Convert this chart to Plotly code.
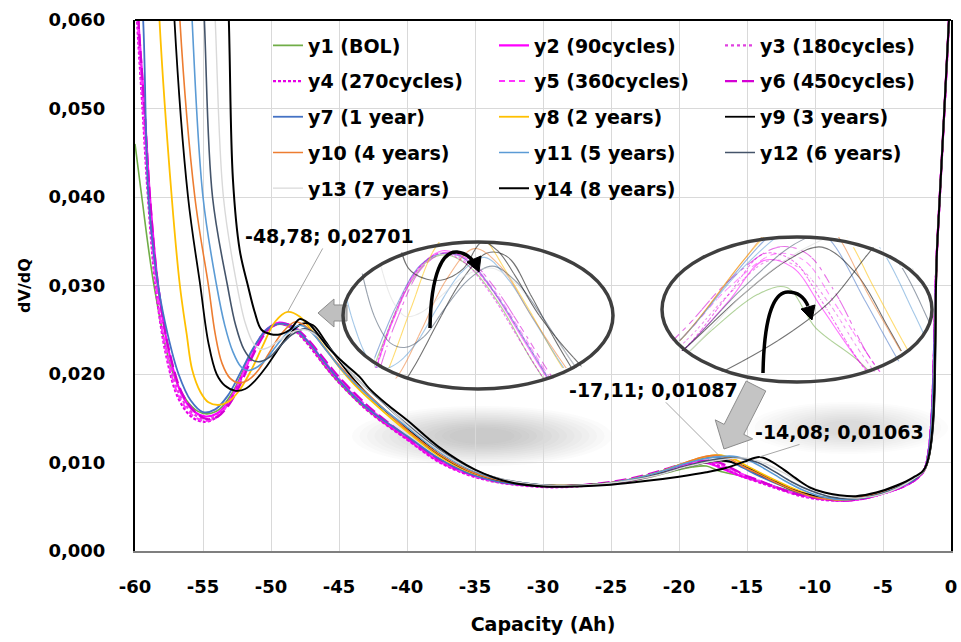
import numpy as np
import plotly.graph_objects as go

# ---------------- data ----------------
names = ["y1 (BOL)", "y2 (90cycles)", "y3 (180cycles)", "y4 (270cycles)", "y5 (360cycles)",
         "y6 (450cycles)", "y7 (1 year)", "y8 (2 years)", "y9 (3 years)", "y10 (4 years)",
         "y11 (5 years)", "y12 (6 years)", "y13 (7 years)", "y14 (8 years)"]

x_y1 = [-60, -59.5, -58.6, -57.3, -56.2, -55.4, -54.7, -53.8, -52.8, -51.8, -50.8, -49.9, -49.2, -48.3, -47.2, -46.0, -44.8, -43.5, -42.0, -40.0, -38.0, -36.0, -34.0, -32.0, -30.0, -28.0, -26.0, -24.0, -22.0, -20.5, -19.0, -18.0, -17.0, -15.5, -14.0, -12.5, -11.0, -9.5, -8.0, -6.5, -5.0, -3.5, -2.5, -1.9, -1.0, -0.15, 0]
y_y1 = [0.046, 0.040, 0.030, 0.0205, 0.0170, 0.0158, 0.0155, 0.0160, 0.0180, 0.0212, 0.0240, 0.0254, 0.0256, 0.0250, 0.0233, 0.0208, 0.0187, 0.0167, 0.0148, 0.0127, 0.0106, 0.0091, 0.0080, 0.0075, 0.0073, 0.0073, 0.0075, 0.0078, 0.0084, 0.0090, 0.0095, 0.0096, 0.0090, 0.0085, 0.0078, 0.0071, 0.0065, 0.0061, 0.0059, 0.0061, 0.0066, 0.0074, 0.0083, 0.0095, 0.035, 0.060, 0.066]

x_y2 = [-60, -59.75, -59.3, -58.9, -58.3, -57.5, -56.6, -55.6, -54.8, -54.0, -53.2, -52.3, -51.3, -50.3, -49.4, -48.5, -47.5, -46.4, -45.3, -44.0, -42.6, -40.0, -37.7, -35.5, -33.5, -31.5, -29.5, -27.5, -25.5, -23.5, -21.5, -20.0, -18.8, -17.8, -16.8, -15.5, -14.0, -12.5, -11.0, -9.5, -8.0, -6.5, -5.0, -3.5, -2.5, -1.9, -1.0, -0.15, 0]
y_y2 = [0.068, 0.060, 0.050, 0.040, 0.030, 0.0225, 0.0178, 0.0157, 0.0152, 0.0155, 0.0167, 0.0192, 0.0226, 0.0250, 0.0258, 0.0254, 0.0240, 0.0219, 0.0198, 0.0177, 0.0157, 0.0127, 0.0102, 0.0087, 0.0079, 0.0075, 0.0073, 0.0074, 0.0076, 0.0080, 0.0087, 0.0094, 0.0100, 0.0099, 0.0093, 0.0085, 0.0078, 0.0070, 0.0063, 0.0059, 0.0057, 0.0059, 0.0065, 0.0073, 0.0082, 0.0094, 0.035, 0.060, 0.066]

x_y3 = [-60, -59.8, -59.35, -58.95, -58.4, -57.6, -56.7, -55.7, -54.8, -54.0, -53.2, -52.3, -51.3, -50.3, -49.4, -48.5, -47.5, -46.4, -45.3, -44.0, -42.6, -40.0, -37.7, -35.5, -33.5, -31.5, -29.5, -27.5, -25.5, -23.5, -21.5, -20.0, -18.6, -17.6, -16.6, -15.4, -14.0, -12.5, -11.0, -9.5, -8.0, -6.5, -5.0, -3.5, -2.5, -1.9, -1.0, -0.15, 0]
y_y3 = [0.068, 0.060, 0.050, 0.040, 0.030, 0.0222, 0.0176, 0.0155, 0.0149, 0.0153, 0.0166, 0.0191, 0.0226, 0.0250, 0.0257, 0.0253, 0.0240, 0.0220, 0.0199, 0.0178, 0.0158, 0.0128, 0.0103, 0.0088, 0.0079, 0.0075, 0.0073, 0.0074, 0.0076, 0.0081, 0.0088, 0.0095, 0.0100, 0.0099, 0.0094, 0.0086, 0.0078, 0.0070, 0.0063, 0.0059, 0.0057, 0.0059, 0.0065, 0.0073, 0.0082, 0.0094, 0.035, 0.060, 0.066]

x_y4 = [-60, -59.85, -59.45, -59.05, -58.5, -57.7, -56.8, -55.8, -54.9, -54.1, -53.3, -52.4, -51.4, -50.4, -49.5, -48.6, -47.6, -46.5, -45.4, -44.1, -42.7, -40.0, -37.7, -35.5, -33.5, -31.5, -29.5, -27.5, -25.5, -23.5, -21.5, -20.0, -18.8, -17.8, -16.8, -15.5, -14.0, -12.5, -11.0, -9.5, -8.0, -6.5, -5.0, -3.5, -2.5, -1.9, -1.0, -0.15, 0]
y_y4 = [0.066, 0.060, 0.050, 0.040, 0.030, 0.0220, 0.0172, 0.0151, 0.0146, 0.0150, 0.0163, 0.0189, 0.0224, 0.0249, 0.0257, 0.0253, 0.0239, 0.0218, 0.0197, 0.0176, 0.0156, 0.0126, 0.0101, 0.0086, 0.0078, 0.0074, 0.0072, 0.0073, 0.0076, 0.0080, 0.0087, 0.0095, 0.0101, 0.0100, 0.0094, 0.0085, 0.0077, 0.0069, 0.0062, 0.0058, 0.0057, 0.0059, 0.0065, 0.0073, 0.0082, 0.0094, 0.035, 0.060, 0.066]

x_y5 = [-60, -59.8, -59.4, -59.0, -58.45, -57.65, -56.75, -55.75, -54.85, -54.05, -53.25, -52.35, -51.35, -50.35, -49.45, -48.5, -47.5, -46.4, -45.3, -44.0, -42.6, -40.0, -37.7, -35.5, -33.5, -31.5, -29.5, -27.5, -25.5, -23.5, -21.5, -20.0, -18.4, -17.4, -16.4, -15.2, -14.0, -12.5, -11.0, -9.5, -8.0, -6.5, -5.0, -3.5, -2.5, -1.9, -1.0, -0.15, 0]
y_y5 = [0.067, 0.060, 0.050, 0.040, 0.030, 0.0221, 0.0174, 0.0153, 0.0147, 0.0151, 0.0164, 0.0190, 0.0225, 0.0250, 0.0257, 0.0254, 0.0241, 0.0221, 0.0200, 0.0179, 0.0159, 0.0129, 0.0103, 0.0087, 0.0079, 0.0075, 0.0073, 0.0074, 0.0076, 0.0081, 0.0089, 0.0096, 0.0101, 0.0100, 0.0094, 0.0086, 0.0079, 0.0070, 0.0063, 0.0059, 0.0057, 0.0059, 0.0065, 0.0073, 0.0082, 0.0094, 0.035, 0.060, 0.066]

x_y6 = [-60, -59.75, -59.3, -58.9, -58.3, -57.45, -56.5, -55.5, -54.7, -53.9, -53.1, -52.2, -51.2, -50.2, -49.3, -48.4, -47.4, -46.3, -45.2, -43.9, -42.5, -40.0, -37.7, -35.5, -33.5, -31.5, -29.5, -27.5, -25.5, -23.5, -21.5, -20.0, -18.3, -17.3, -16.3, -15.2, -14.0, -12.5, -11.0, -9.5, -8.0, -6.5, -5.0, -3.5, -2.5, -1.9, -1.0, -0.15, 0]
y_y6 = [0.068, 0.060, 0.050, 0.040, 0.030, 0.0224, 0.0177, 0.0156, 0.0149, 0.0152, 0.0165, 0.0190, 0.0225, 0.0250, 0.0257, 0.0254, 0.0241, 0.0221, 0.0200, 0.0179, 0.0159, 0.0129, 0.0104, 0.0088, 0.0080, 0.0075, 0.0073, 0.0074, 0.0077, 0.0082, 0.0090, 0.0097, 0.0102, 0.0101, 0.0095, 0.0086, 0.0079, 0.0070, 0.0063, 0.0059, 0.0057, 0.0059, 0.0065, 0.0073, 0.0082, 0.0094, 0.035, 0.060, 0.066]

x_y7 = [-60, -59.4, -59.0, -58.3, -57.6, -56.8, -55.9, -55.0, -54.1, -53.2, -52.2, -51.2, -50.2, -49.2, -48.3, -47.3, -46.2, -45.0, -43.7, -42.3, -40.0, -37.7, -35.5, -33.5, -31.5, -29.5, -27.5, -25.5, -23.5, -21.5, -19.8, -18.5, -17.5, -16.5, -15.3, -14.0, -12.5, -11.0, -9.5, -8.0, -6.5, -5.0, -3.5, -2.5, -1.9, -1.0, -0.15, 0]
y_y7 = [0.075, 0.060, 0.0397, 0.030, 0.0245, 0.0200, 0.0170, 0.0157, 0.0160, 0.0175, 0.0203, 0.0232, 0.0252, 0.0257, 0.0252, 0.0237, 0.0216, 0.0193, 0.0172, 0.0154, 0.0130, 0.0105, 0.0088, 0.0079, 0.0075, 0.0073, 0.0074, 0.0076, 0.0081, 0.0089, 0.0098, 0.0104, 0.0106, 0.0103, 0.0094, 0.0084, 0.0074, 0.0065, 0.0060, 0.0058, 0.0060, 0.0066, 0.0074, 0.0083, 0.0094, 0.035, 0.060, 0.066]

x_y8 = [-58.8, -58.2, -57.3, -56.7, -56.2, -55.8, -55.2, -54.6, -53.9, -53.2, -52.4, -51.5, -50.6, -49.7, -48.78, -47.9, -47.0, -46.0, -45.0, -43.8, -42.5, -40.0, -37.7, -35.5, -33.5, -31.5, -29.5, -27.5, -25.5, -23.5, -21.5, -19.5, -18.2, -17.11, -16.0, -15.0, -14.0, -12.8, -11.5, -10.0, -8.5, -7.0, -5.5, -4.0, -2.8, -1.9, -1.0, -0.15, 0]
y_y8 = [0.085, 0.060, 0.040, 0.030, 0.0245, 0.0205, 0.0180, 0.0168, 0.0165, 0.0168, 0.0180, 0.0203, 0.0232, 0.0259, 0.02701, 0.0265, 0.0249, 0.0229, 0.0208, 0.0187, 0.0168, 0.0135, 0.0108, 0.0090, 0.0081, 0.0076, 0.0074, 0.0074, 0.0076, 0.0081, 0.0089, 0.0100, 0.0106, 0.01087, 0.0104, 0.0096, 0.0088, 0.0079, 0.0070, 0.0062, 0.0058, 0.0059, 0.0064, 0.0072, 0.0082, 0.0093, 0.035, 0.060, 0.066]

x_y9 = [-57.7, -57.1, -56.1, -55.2, -54.6, -54.0, -53.4, -52.6, -51.9, -51.2, -50.4, -49.6, -48.7, -47.7, -46.9, -46.0, -45.0, -43.8, -42.5, -40.0, -37.7, -35.5, -33.5, -31.5, -29.5, -27.5, -25.5, -23.5, -21.5, -19.5, -18.0, -16.8, -15.6, -14.5, -13.2, -11.8, -10.3, -8.8, -7.3, -5.8, -4.3, -3.0, -1.9, -1.0, -0.15, 0]
y_y9 = [0.085, 0.060, 0.040, 0.030, 0.0235, 0.0200, 0.0187, 0.0181, 0.0183, 0.0192, 0.0207, 0.0225, 0.0244, 0.0257, 0.0255, 0.0237, 0.0215, 0.0192, 0.0171, 0.0138, 0.0110, 0.0091, 0.0081, 0.0076, 0.0074, 0.0074, 0.0076, 0.0080, 0.0087, 0.0095, 0.0100, 0.0102, 0.0098, 0.0090, 0.0080, 0.0070, 0.0063, 0.0059, 0.0059, 0.0064, 0.0071, 0.0080, 0.0093, 0.035, 0.060, 0.066]

x_y10 = [-57.3, -56.7, -55.6, -54.6, -54.1, -53.6, -53.0, -52.4, -51.7, -51.0, -50.2, -49.3, -48.2, -47.2, -46.1, -45.0, -43.8, -42.5, -40.0, -37.7, -35.5, -33.5, -31.5, -29.5, -27.5, -25.5, -23.5, -21.5, -19.5, -18.3, -17.3, -16.3, -15.2, -14.0, -12.7, -11.3, -9.8, -8.3, -6.8, -5.3, -3.8, -2.7, -1.9, -1.0, -0.15, 0]
y_y10 = [0.085, 0.060, 0.040, 0.030, 0.0245, 0.0212, 0.0195, 0.0190, 0.0193, 0.0203, 0.0222, 0.0244, 0.0259, 0.0251, 0.0230, 0.0210, 0.0190, 0.0172, 0.0137, 0.0110, 0.0091, 0.0081, 0.0076, 0.0074, 0.0074, 0.0076, 0.0081, 0.0089, 0.0100, 0.0106, 0.0108, 0.0104, 0.0095, 0.0086, 0.0076, 0.0067, 0.0060, 0.0058, 0.0060, 0.0065, 0.0073, 0.0082, 0.0093, 0.035, 0.060, 0.066]

x_y11 = [-56.4, -55.8, -55.0, -54.0, -53.4, -52.8, -52.2, -51.7, -51.1, -50.4, -49.6, -48.7, -47.8, -46.9, -45.9, -44.8, -43.6, -42.3, -40.0, -37.7, -35.5, -33.5, -31.5, -29.5, -27.5, -25.5, -23.5, -21.5, -19.5, -17.8, -16.0, -14.8, -13.6, -12.3, -10.9, -9.4, -7.9, -6.4, -4.9, -3.6, -2.6, -1.9, -1.0, -0.15, 0]
y_y11 = [0.085, 0.060, 0.040, 0.030, 0.0255, 0.0225, 0.0208, 0.0204, 0.0207, 0.0216, 0.0232, 0.0248, 0.0255, 0.0245, 0.0226, 0.0205, 0.0186, 0.0168, 0.0140, 0.0113, 0.0093, 0.0082, 0.0077, 0.0074, 0.0074, 0.0076, 0.0081, 0.0089, 0.0099, 0.0105, 0.0107, 0.0102, 0.0092, 0.0080, 0.0069, 0.0061, 0.0058, 0.0060, 0.0066, 0.0074, 0.0083, 0.0093, 0.035, 0.060, 0.066]

x_y12 = [-55.5, -54.9, -54.3, -53.2, -52.6, -52.0, -51.4, -50.8, -50.1, -49.3, -48.4, -47.5, -46.6, -45.6, -44.5, -43.3, -42.0, -40.0, -37.7, -35.5, -33.5, -31.5, -29.5, -27.5, -25.5, -23.5, -21.5, -19.5, -17.5, -15.5, -14.2, -13.0, -11.7, -10.3, -8.8, -7.3, -5.8, -4.3, -3.0, -1.9, -1.0, -0.15, 0]
y_y12 = [0.085, 0.060, 0.040, 0.030, 0.0255, 0.0228, 0.0216, 0.0214, 0.0219, 0.0232, 0.0245, 0.0251, 0.0244, 0.0228, 0.0208, 0.0189, 0.0171, 0.0143, 0.0115, 0.0094, 0.0083, 0.0077, 0.0074, 0.0074, 0.0076, 0.0080, 0.0087, 0.0096, 0.0103, 0.0105, 0.0100, 0.0090, 0.0078, 0.0068, 0.0061, 0.0059, 0.0062, 0.0069, 0.0079, 0.0093, 0.035, 0.060, 0.066]

x_y13 = [-54.7, -54.1, -53.5, -52.5, -51.9, -51.3, -50.8, -50.2, -49.4, -48.5, -47.5, -46.6, -45.6, -44.5, -43.3, -42.0, -40.0, -37.7, -35.5, -33.5, -31.5, -29.5, -27.5, -25.5, -23.5, -21.5, -19.5, -17.3, -15.0, -13.7, -12.4, -11.0, -9.6, -8.1, -6.6, -5.1, -3.8, -2.7, -1.9, -1.0, -0.15, 0]
y_y13 = [0.085, 0.060, 0.040, 0.030, 0.0258, 0.0235, 0.0228, 0.0230, 0.0238, 0.0247, 0.0250, 0.0243, 0.0227, 0.0208, 0.0189, 0.0172, 0.0142, 0.0114, 0.0094, 0.0083, 0.0077, 0.0074, 0.0074, 0.0076, 0.0080, 0.0086, 0.0095, 0.0102, 0.0105, 0.0099, 0.0089, 0.0077, 0.0068, 0.0061, 0.0060, 0.0064, 0.0072, 0.0082, 0.0093, 0.035, 0.060, 0.066]

x_y14 = [-53.6, -53.1, -52.8, -52.3, -51.7, -51.2, -50.7, -50.0, -49.3, -48.6, -47.9, -47.3, -46.6, -45.8, -44.9, -43.5, -42.8, -41.5, -40.0, -37.7, -35.0, -32.5, -30.0, -27.5, -25.0, -22.5, -20.0, -18.0, -16.5, -15.2, -14.08, -13.2, -12.3, -11.4, -10.4, -9.3, -8.2, -7.0, -5.5, -4.0, -2.8, -1.9, -1.0, -0.15, 0]
y_y14 = [0.085, 0.060, 0.042, 0.034, 0.030, 0.0270, 0.0250, 0.0245, 0.0245, 0.0250, 0.0262, 0.0258, 0.0246, 0.0230, 0.0216, 0.0197, 0.0184, 0.0166, 0.0148, 0.0118, 0.0092, 0.0078, 0.0073, 0.0073, 0.0075, 0.0079, 0.0084, 0.0089, 0.0094, 0.0101, 0.01063, 0.0101, 0.0092, 0.0082, 0.0072, 0.0066, 0.0063, 0.0062, 0.0066, 0.0074, 0.0083, 0.0094, 0.035, 0.060, 0.066]

x_tick_vals = [-60, -55, -50, -45, -40, -35, -30, -25, -20, -15, -10, -5, 0]
x_tick_text = ["-60", "-55", "-50", "-45", "-40", "-35", "-30", "-25", "-20", "-15", "-10", "-5", "0"]
y_tick_vals = [0.0, 0.01, 0.02, 0.03, 0.04, 0.05, 0.06]

ann_x = [-48.78, -17.11, -14.08]
ann_y = [0.02701, 0.01087, 0.01063]

# inset zoom windows (data ranges)
inset1_xrange = [-53.2, -42.9]
inset1_yrange = [0.0195, 0.0262]
inset2_xrange = [-22.3, -13.0]
inset2_yrange = [0.0082, 0.01035]

# ---------------- styles ----------------
colors = ["#70AD47", "#FF00FF", "#E040E0", "#E600E6", "#FF33FF", "#D400D4", "#4472C4",
          "#FFC000", "#000000", "#ED7D31", "#5B9BD5", "#44546A", "#D9D9D9", "#000000"]
dashes = ["solid", "solid", "dot", "3px,2px", "6px,4px", "12px,5px", "solid",
          "solid", "solid", "solid", "solid", "solid", "solid", "solid"]
widths = [1.6, 2.2, 2.2, 2.2, 2.0, 2.2, 1.8, 1.8, 1.8, 1.6, 1.6, 1.6, 1.4, 2.0]

series_x = [x_y1, x_y2, x_y3, x_y4, x_y5, x_y6, x_y7, x_y8, x_y9, x_y10, x_y11, x_y12, x_y13, x_y14]
series_y = [y_y1, y_y2, y_y3, y_y4, y_y5, y_y6, y_y7, y_y8, y_y9, y_y10, y_y11, y_y12, y_y13, y_y14]

W, H = 961, 642
ML, MR, MT, MB = 135, 10, 20, 91
PW = W - ML - MR
PH = H - MT - MB
FONT = "DejaVu Sans"


def fx(px):
    return (px - ML) / PW


def fy(py):
    return (H - MB - py) / PH


def pt(px, py):
    return f"{fx(px):.5f},{fy(py):.5f}"


fig = go.Figure()

# main series
for i in range(14):
    r = i // 3
    leg = "legend" if r == 0 else f"legend{r + 1}"
    fig.add_trace(go.Scatter(
        x=series_x[i], y=series_y[i], mode="lines", name=names[i],
        line=dict(color=colors[i], width=widths[i], dash=dashes[i], shape="spline", smoothing=1.0),
        legend=leg, hoverinfo="skip"))

# zoomed insets, clipped to ellipses with horizontal strips
layout_axes = {}
axis_counter = [2]


def add_inset(cx, cy, rx, ry, xr, yr, nstrip):
    for k in range(nstrip):
        ptop = cy - ry + k * 2 * ry / nstrip
        pbot = ptop + 2 * ry / nstrip
        ymid = 0.5 * (ptop + pbot)
        t = (ymid - cy) / ry
        half = rx * np.sqrt(max(0.0, 1 - t * t))
        pl, pr = cx - half, cx + half
        x0 = xr[0] + (pl - (cx - rx)) / (2 * rx) * (xr[1] - xr[0])
        x1 = xr[0] + (pr - (cx - rx)) / (2 * rx) * (xr[1] - xr[0])
        yb = yr[0] + ((cy + ry) - pbot) / (2 * ry) * (yr[1] - yr[0])
        yt = yr[0] + ((cy + ry) - ptop) / (2 * ry) * (yr[1] - yr[0])
        n = axis_counter[0]
        axis_counter[0] += 1
        layout_axes[f"xaxis{n}"] = dict(domain=[fx(pl), fx(pr)], range=[x0, x1], anchor=f"y{n}",
                                        visible=False, showgrid=False, zeroline=False, fixedrange=True)
        layout_axes[f"yaxis{n}"] = dict(domain=[fy(pbot), fy(ptop)], range=[yb, yt], anchor=f"x{n}",
                                        visible=False, showgrid=False, zeroline=False, fixedrange=True)
        for i in range(14):
            fig.add_trace(go.Scatter(
                x=series_x[i], y=series_y[i], mode="lines", showlegend=False, hoverinfo="skip",
                xaxis=f"x{n}", yaxis=f"y{n}", opacity=0.55,
                line=dict(color=colors[i], width=1.1, dash=dashes[i], shape="spline", smoothing=1.0)))


E1 = (478, 315.5, 135, 73.5)
E2 = (797, 309.5, 135, 72.5)
add_inset(*E1, inset1_xrange, inset1_yrange, 14)
add_inset(*E2, inset2_xrange, inset2_yrange, 14)

# ---------------- shapes ----------------
shapes = []
# soft shadows
for j in range(14):
    f = 1 - j / 14
    rx, ry = 25 + 105 * f, 6 + 24 * f
    cx, cy = 482, 436
    shapes.append(dict(type="circle", xref="paper", yref="paper", layer="below",
                       x0=fx(cx - rx), x1=fx(cx + rx), y0=fy(cy + ry), y1=fy(cy - ry),
                       fillcolor="rgba(90,90,90,0.022)", line=dict(width=0)))
for j in range(12):
    f = 1 - j / 12
    rx, ry = 20 + 80 * f, 6 + 20 * f
    cx, cy = 848, 428
    shapes.append(dict(type="circle", xref="paper", yref="paper", layer="below",
                       x0=fx(cx - rx), x1=fx(cx + rx), y0=fy(cy + ry), y1=fy(cy - ry),
                       fillcolor="rgba(90,90,90,0.015)", line=dict(width=0)))

# top border
shapes.append(dict(type="line", xref="paper", yref="paper", x0=0, x1=1, y0=1, y1=1,
                   line=dict(color="black", width=2)))

# left block arrow
p = [(318, 313), (334, 299), (334, 305), (347, 305), (347, 321), (334, 321), (334, 327)]
shapes.append(dict(type="path", xref="paper", yref="paper",
                   path="M " + " L ".join(pt(a, b) for a, b in p) + " Z",
                   fillcolor="#BFBFBF", line=dict(color="#8C8C8C", width=1)))

# down-left block arrow
T = np.array([724.0, 449.0])
C = np.array([756.0, 386.0])
d = T - C
u = d / np.linalg.norm(d)
nrm = np.array([u[1], -u[0]])
wsh, hh, hl = 11, 21, 22
B = T - hl * u
pts = [C - wsh * nrm, B - wsh * nrm, B - hh * nrm, T, B + hh * nrm, B + wsh * nrm, C + wsh * nrm]
shapes.append(dict(type="path", xref="paper", yref="paper",
                   path="M " + " L ".join(pt(a, b) for a, b in pts) + " Z",
                   fillcolor="#C4C4C4", line=dict(color="#8C8C8C", width=1)))

# ellipses
for (cx, cy, rx, ry) in (E1, E2):
    shapes.append(dict(type="circle", xref="paper", yref="paper",
                       x0=fx(cx - rx), x1=fx(cx + rx), y0=fy(cy + ry), y1=fy(cy - ry),
                       line=dict(color="#3F3F3F", width=3.5)))

# curved black arrows
shapes.append(dict(type="path", xref="paper", yref="paper",
                   path=f"M {pt(430, 328)} C {pt(431, 272)} {pt(443, 251)} {pt(457, 252)} C {pt(466, 253)} {pt(471, 258)} {pt(474, 262)}",
                   line=dict(color="black", width=3.5)))
shapes.append(dict(type="path", xref="paper", yref="paper",
                   path=f"M {pt(479, 272)} L {pt(467, 262)} L {pt(481, 256)} Z",
                   fillcolor="black", line=dict(color="black", width=1)))
shapes.append(dict(type="path", xref="paper", yref="paper",
                   path=f"M {pt(763, 373)} C {pt(764, 322)} {pt(772, 292)} {pt(788, 292)} C {pt(799, 292)} {pt(805, 299)} {pt(808, 306)}",
                   line=dict(color="black", width=3.5)))
shapes.append(dict(type="path", xref="paper", yref="paper",
                   path=f"M {pt(812, 320)} L {pt(801, 309)} L {pt(815, 305)} Z",
                   fillcolor="black", line=dict(color="black", width=1)))

# ---------------- annotations ----------------
offsets = [(42, -76), (-65, -65), (80, -25)]
annotations = []
for i in range(3):
    txt = f"{ann_x[i]:.2f}".replace(".", ",") + "; " + f"{ann_y[i]:.5f}".replace(".", ",")
    annotations.append(dict(x=ann_x[i], y=ann_y[i], xref="x", yref="y", text=txt,
                            showarrow=True, arrowhead=0, arrowwidth=1, arrowcolor="#A6A6A6",
                            ax=offsets[i][0], ay=offsets[i][1], standoff=0,
                            font=dict(family=FONT, size=19, weight="bold", color="black")))

# ---------------- layout ----------------
legends = {}
for r in range(5):
    key = "legend" if r == 0 else f"legend{r + 1}"
    legends[key] = dict(x=fx(268), y=fy(45.5 + 35.7 * r), xanchor="left", yanchor="middle",
                        orientation="h", entrywidth=181, entrywidthmode="pixels",
                        bgcolor="rgba(0,0,0,0)", borderwidth=0, itemwidth=30,
                        font=dict(family=FONT, size=19, weight="bold", color="black"),
                        traceorder="normal")

fig.update_layout(
    width=W, height=H,
    margin=dict(l=ML, r=MR, t=MT, b=MB, pad=0),
    paper_bgcolor="white", plot_bgcolor="rgba(0,0,0,0)",
    separators=",.",
    font=dict(family=FONT, color="black"),
    showlegend=True,
    xaxis=dict(domain=[0, 1], range=[-60, 0], tickvals=x_tick_vals, ticktext=x_tick_text,
               showgrid=True, gridcolor="#D9D9D9", gridwidth=1, zeroline=False,
               showline=True, linecolor="#7F7F7F", linewidth=2, ticks="",
               tickfont=dict(family=FONT, size=18, weight="bold", color="black"),
               ticklabelstandoff=18, automargin=False, fixedrange=True,
               title=dict(text="Capacity (Ah)", standoff=22,
                          font=dict(family=FONT, size=19, weight="bold", color="black"))),
    yaxis=dict(domain=[0, 1], range=[0, 0.06], tickvals=y_tick_vals, tickformat=".3f",
               showgrid=True, gridcolor="#D9D9D9", gridwidth=1, zeroline=False,
               showline=True, linecolor="black", linewidth=2, mirror=True, ticks="",
               tickfont=dict(family=FONT, size=18, weight="bold", color="black"),
               ticklabelstandoff=24, automargin=False, fixedrange=True,
               title=dict(text="dV/dQ", standoff=14,
                          font=dict(family=FONT, size=16, weight="bold", color="black"))),
    shapes=shapes,
    annotations=annotations,
    **legends,
    **layout_axes,
)

fig.write_html("out.html", include_plotlyjs=True, config={"displayModeBar": False})
